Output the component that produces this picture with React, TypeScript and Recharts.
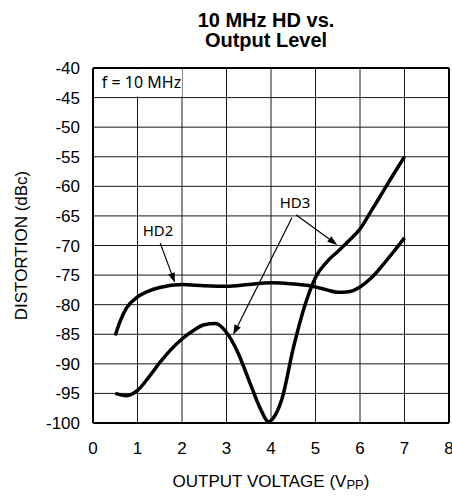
import React from 'react';
import {
  LineChart,
  Line,
  XAxis,
  YAxis,
  CartesianGrid,
  ReferenceArea,
  ReferenceLine,
  ReferenceDot,
} from 'recharts';

// HD2 curve
const hd2X = [0.5, 0.6, 0.75, 1.0, 1.25, 1.5, 2.0, 2.5, 3.0, 3.5, 4.0, 4.5, 5.0, 5.25, 5.5, 5.75, 6.0, 6.25, 6.5, 6.75, 7.0];
const hd2Y = [-85.2, -83.0, -80.6, -78.7, -77.7, -77.1, -76.6, -76.8, -76.9, -76.6, -76.3, -76.5, -77.0, -77.5, -77.9, -77.8, -77.0, -75.5, -73.4, -71.1, -68.7];

// HD3 curve
const hd3X = [0.5, 0.75, 1.0, 1.25, 1.5, 1.75, 2.0, 2.25, 2.5, 2.75, 3.0, 3.25, 3.5, 3.75, 3.95, 4.1, 4.25, 4.5, 4.75, 5.0, 5.25, 5.5, 5.75, 6.0, 6.25, 6.5, 6.75, 7.0];
const hd3Y = [-95, -95.4, -94.5, -92.3, -89.8, -87.6, -85.8, -84.4, -83.4, -83.2, -84.7, -88.0, -92.7, -97.4, -99.8, -98.6, -95.8, -87.4, -80.4, -75.4, -72.8, -71.0, -69.2, -67.2, -64.2, -61.1, -58.0, -55.0];

const xTicks = [0, 1, 2, 3, 4, 5, 6, 7, 8];
const yTicks = [-100, -95, -90, -85, -80, -75, -70, -65, -60, -55, -50, -45, -40];

// annotation labels and arrows (data coords)
const labels = [
  { text: 'HD2', x: 1.46, y: -67.5 },
  { text: 'HD3', x: 4.54, y: -62.8 },
];
const arrows = [
  { from: { x: 1.51, y: -69.6 }, to: { x: 1.84, y: -76.3 } },
  { from: { x: 4.56, y: -64.8 }, to: { x: 5.49, y: -69.9 } },
  { from: { x: 4.47, y: -65.3 }, to: { x: 3.15, y: -85.1 } },
];

const hd2Data = hd2X.map((x, i) => ({ x, v: hd2Y[i] }));
const hd3Data = hd3X.map((x, i) => ({ x, v: hd3Y[i] }));

const AXIS_FONT = '"Liberation Sans", Arial, sans-serif';
const NOTE_FONT = '"Noto Sans", "Open Sans", sans-serif';

const Arrow = (p: any) => {
  const { x1, y1, x2, y2 } = p;
  const ang = Math.atan2(y2 - y1, x2 - x1);
  const len = 10;
  const w = 3.5;
  const bx = x2 - len * Math.cos(ang);
  const by = y2 - len * Math.sin(ang);
  const px = -Math.sin(ang) * w;
  const py = Math.cos(ang) * w;
  return (
    <g>
      <line x1={x1} y1={y1} x2={bx} y2={by} stroke="#000" strokeWidth={1.2} />
      <polygon points={`${x2},${y2} ${bx + px},${by + py} ${bx - px},${by - py}`} fill="#000" />
    </g>
  );
};

const XLabel = (p: any) => {
  const { viewBox } = p;
  return (
    <text
      x={viewBox.x + viewBox.width / 2}
      y={viewBox.y + 64}
      textAnchor="middle"
      fontFamily={AXIS_FONT}
      fontSize={17}
      fill="#000"
    >
      OUTPUT VOLTAGE (V
      <tspan fontSize={13} dy={2}>PP</tspan>
      <tspan dy={-2}>)</tspan>
    </text>
  );
};

const YLabel = (p: any) => {
  const { viewBox } = p;
  const cx = 21;
  const cy = viewBox.y + viewBox.height / 2;
  return (
    <text
      x={cx}
      y={cy}
      transform={`rotate(-90, ${cx}, ${cy})`}
      textAnchor="middle"
      dominantBaseline="central"
      fontFamily={AXIS_FONT}
      fontSize={17}
      fill="#000"
    >
      DISTORTION (dBc)
    </text>
  );
};

export default function App() {
  return (
    <div style={{ position: 'absolute', left: 0, top: 0, width: 452, height: 496, background: '#fff' }}>
      <div
        style={{
          position: 'absolute',
          left: 116,
          top: 10,
          width: 300,
          textAlign: 'center',
          fontFamily: AXIS_FONT,
          fontWeight: 'bold',
          fontSize: 20,
          lineHeight: '20px',
          color: '#000',
        }}
      >
        10 MHz HD vs.
        <br />
        Output Level
      </div>
      <LineChart width={452} height={496} margin={{ top: 68, right: 3, bottom: 23, left: 0 }}>
        <CartesianGrid stroke="#1a1a1a" strokeWidth={1} />
        <XAxis
          type="number"
          dataKey="x"
          domain={[0, 8]}
          ticks={xTicks}
          interval={0}
          height={50}
          tickLine={false}
          axisLine={false}
          tickSize={17}
          tickMargin={2}
          tick={{ fill: '#000', fontSize: 17, fontFamily: AXIS_FONT }}
          label={{ content: XLabel }}
        />
        <YAxis
          type="number"
          domain={[-100, -40]}
          ticks={yTicks}
          interval={0}
          width={93}
          tickLine={false}
          axisLine={false}
          tickSize={11}
          tickMargin={2}
          tick={{ fill: '#000', fontSize: 17, fontFamily: AXIS_FONT }}
          label={{ content: YLabel }}
        />
        <ReferenceArea
          x1={0.18}
          x2={2}
          y1={-44.8}
          y2={-40.2}
          fill="#fff"
          fillOpacity={1}
          stroke="none"
          label={{ value: 'f = 10 MHz', position: 'center', fill: '#000', fontSize: 16, fontFamily: NOTE_FONT }}
        />
        <ReferenceLine y={-40} stroke="#000" strokeWidth={2} />
        <ReferenceLine y={-100} stroke="#000" strokeWidth={2} />
        <ReferenceLine x={0} stroke="#000" strokeWidth={2} />
        <ReferenceLine x={8} stroke="#000" strokeWidth={2} />
        {arrows.map((a, i) => (
          <ReferenceLine
            key={'a' + i}
            segment={[a.from, a.to]}
            stroke="#000"
            shape={Arrow}
          />
        ))}
        {labels.map((l) => (
          <ReferenceDot
            key={l.text}
            x={l.x}
            y={l.y}
            r={0}
            fill="none"
            stroke="none"
            label={{ value: l.text, position: 'center', fill: '#000', fontSize: 15, fontFamily: NOTE_FONT }}
          />
        ))}
        <Line
          data={hd2Data}
          dataKey="v"
          type="monotone"
          stroke="#000"
          strokeWidth={3.5}
          dot={false}
          isAnimationActive={false}
        />
        <Line
          data={hd3Data}
          dataKey="v"
          type="monotone"
          stroke="#000"
          strokeWidth={3.5}
          dot={false}
          isAnimationActive={false}
        />
      </LineChart>
    </div>
  );
}
